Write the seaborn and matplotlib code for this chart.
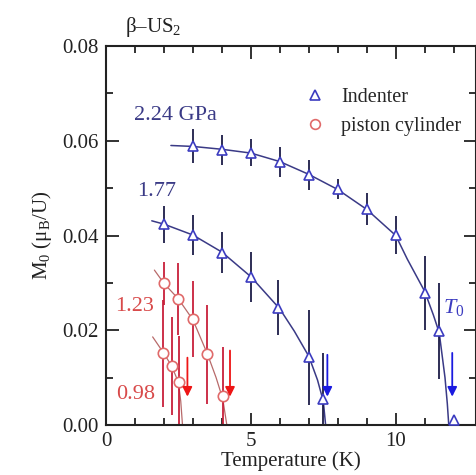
import matplotlib
matplotlib.use("Agg")
import matplotlib.pyplot as plt
import numpy as np
import pandas as pd
import seaborn as sns
from matplotlib.lines import Line2D
from matplotlib.ticker import MultipleLocator

# data points (Temperature in K, M0 in muB/U)
T_224 = [3, 4, 5, 6, 7, 8, 9, 10, 11, 11.5, 12]
M_224 = [0.0588, 0.0581, 0.0575, 0.0555, 0.0528, 0.0498, 0.0456, 0.0401, 0.0278, 0.0198, 0.0010]
E_224 = [0.0036, 0.0032, 0.0028, 0.0032, 0.0032, 0.0021, 0.0034, 0.0040, 0.0078, 0.0101, 0.0]

T_177 = [2, 3, 4, 5, 5.95, 7, 7.5]
M_177 = [0.0424, 0.0401, 0.0364, 0.0313, 0.0248, 0.0143, 0.0055]
E_177 = [0.0039, 0.0042, 0.0044, 0.0053, 0.0058, 0.0100, 0.0097]

T_123 = [2, 2.5, 3, 3.5, 4.03]
M_123 = [0.0299, 0.0266, 0.0223, 0.0149, 0.0062]
E_123 = [0.0046, 0.0076, 0.0080, 0.0105, 0.0103]

T_098 = [1.98, 2.27, 2.52]
M_098 = [0.0151, 0.0125, 0.0091]
E_098 = [0.0112, 0.0104, 0.0097]

# fitted curves
CT_224 = [2.24, 3, 4, 5, 6, 7, 8, 9, 10, 10.4, 11, 11.3, 11.5, 11.7, 11.78, 11.83]
CM_224 = [0.0590, 0.0588, 0.0582, 0.0574, 0.0556, 0.0529, 0.0497, 0.0455, 0.0400, 0.0350, 0.0282, 0.0232, 0.0195, 0.0100, 0.0045, 0.0]
CT_177 = [1.58, 2, 3, 4, 5, 6, 6.5, 7, 7.3, 7.5, 7.58]
CM_177 = [0.0431, 0.0424, 0.0401, 0.0365, 0.0313, 0.0245, 0.0198, 0.0145, 0.0095, 0.0050, 0.0]
CT_123 = [1.67, 2, 2.5, 3, 3.5, 3.8, 4.03, 4.17]
CM_123 = [0.0327, 0.0299, 0.0266, 0.0222, 0.0150, 0.0100, 0.0055, 0.0]
CT_098 = [1.61, 2, 2.27, 2.5, 2.58, 2.64]
CM_098 = [0.0186, 0.0151, 0.0124, 0.0090, 0.0050, 0.0]

# T0 arrows
T0_red = [2.81, 4.28]
T0_red_top = [0.0148, 0.0163]
T0_blue = [7.64, 11.95]
T0_blue_top = [0.0154, 0.0158]
T0_tip = 0.0054

navy = "#3a3a86"
bar_navy = "#1c1c48"
tri_blue = "#3c3cc0"
red_txt = "#d84a4a"
red_circ = "#e06a6a"
red_bar = "#c8203a"
red_line = "#b86a6a"

sns.set_theme(style="ticks")
plt.rcParams["font.family"] = ["Liberation Serif", "DejaVu Serif"]
plt.rcParams["mathtext.fontset"] = "custom"
plt.rcParams["mathtext.rm"] = "Liberation Serif"
plt.rcParams["mathtext.it"] = "Liberation Serif:italic"

fig = plt.figure(figsize=(4.77, 4.75), dpi=100)
ax = fig.add_axes([106 / 477, 1 - 425 / 475, 370 / 477, 379 / 475])

curves = [(CT_224, CM_224, navy, 1.1), (CT_177, CM_177, navy, 1.1),
          (CT_123, CM_123, red_line, 0.9), (CT_098, CM_098, red_line, 0.9)]
for ct, cm, col, lw in curves:
    sns.lineplot(x=ct, y=cm, ax=ax, color=col, lw=lw, sort=False, estimator=None)

sets = [(T_224, M_224, E_224, "^", tri_blue, bar_navy),
        (T_177, M_177, E_177, "^", tri_blue, bar_navy),
        (T_123, M_123, E_123, "o", red_circ, red_bar),
        (T_098, M_098, E_098, "o", red_circ, red_bar)]
for t, m, e, mk, mcol, bcol in sets:
    ax.errorbar(t, m, yerr=e, fmt="none", ecolor=bcol, elinewidth=1.3, capsize=0, zorder=2)
    ax.plot(t, m, ls="none", marker=mk, ms=7.5, mfc="white", mec=mcol, mew=1.2,
            zorder=3, clip_on=False)

for x, top in zip(T0_red, T0_red_top):
    ax.annotate("", xy=(x, T0_tip), xytext=(x, top),
                arrowprops=dict(arrowstyle="-|>", color="#ee1515", lw=1.3, mutation_scale=14))
for x, top in zip(T0_blue, T0_blue_top):
    ax.annotate("", xy=(x, T0_tip), xytext=(x, top),
                arrowprops=dict(arrowstyle="-|>", color="#1a1ae0", lw=1.3, mutation_scale=14))

ax.set_xlim(0, 12.77)
ax.set_ylim(0, 0.08)
ax.xaxis.set_major_locator(MultipleLocator(5))
ax.xaxis.set_minor_locator(MultipleLocator(1))
ax.yaxis.set_major_locator(MultipleLocator(0.02))
ax.yaxis.set_minor_locator(MultipleLocator(0.01))
ax.yaxis.set_major_formatter(matplotlib.ticker.FormatStrFormatter("%.2f"))
ax.tick_params(which="both", direction="in", top=True, right=True, colors="#222222",
               labelsize=15, width=1.3)
ax.tick_params(which="major", length=9, pad=5)
ax.tick_params(which="minor", length=5)
for s in ax.spines.values():
    s.set_linewidth(1.5)
    s.set_color("#222222")

ax.set_xlabel("Temperature (K)", fontsize=15, labelpad=0, color="#222222")
ax.set_ylabel("M$_0$ (μ$_\\mathrm{B}$/U)", fontsize=15, labelpad=6, color="#222222")

ax.text(0.97, 0.0654, "2.24 GPa", color=navy, fontsize=16, va="center")
ax.text(1.07, 0.0493, "1.77", color=navy, fontsize=16, va="center")
ax.text(0.31, 0.0251, "1.23", color=red_txt, fontsize=16, va="center")
ax.text(0.34, 0.0065, "0.98", color=red_txt, fontsize=16, va="center")
ax.text(11.63, 0.0249, "$T_0$", color=tri_blue, fontsize=16, va="center")
fig.text(125 / 477, 1 - 27 / 475, "β–US$_2$", fontsize=15, va="center", color="#222222")

handles = [Line2D([], [], ls="none", marker="^", ms=7, mfc="white", mec=tri_blue, mew=1.2),
           Line2D([], [], ls="none", marker="o", ms=7, mfc="white", mec=red_circ, mew=1.2)]
ax.legend(handles, ["Indenter", "piston cylinder"], loc="upper left",
          bbox_to_anchor=((291 - 106) / 370, 1 - (74 - 46) / 379), frameon=False, fontsize=14.5,
          handlelength=1.0, handletextpad=0.8, labelspacing=0.5, borderpad=0.2)

fig.savefig("out.png", dpi=100)
